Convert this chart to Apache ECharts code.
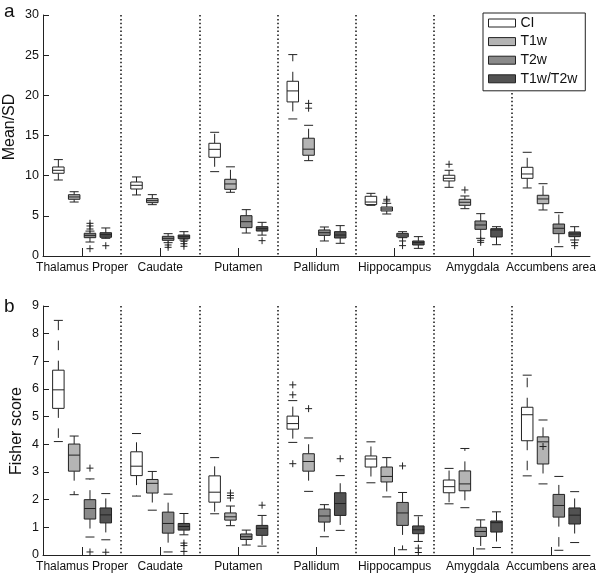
<!DOCTYPE html>
<html><head><meta charset="utf-8">
<script src="https://cdn.jsdelivr.net/npm/echarts@6/dist/echarts.min.js"></script>
<style>html,body{margin:0;padding:0;background:#fff}#c{width:600px;height:577px}</style>
</head><body><div id="c"></div>
<script>
const categories = ['Thalamus Proper','Caudate','Putamen','Pallidum','Hippocampus','Amygdala','Accumbens area'];
const seriesNames = ['CI','T1w','T2w','T1w/T2w'];
const seriesColors = ['#ffffff','#b4b4b4','#8a8a8a','#525252'];
const axisTitles = ['Mean/SD', 'Fisher score'];

// Panel a: Mean/SD  — each entry [lowWhisker, Q1, median, Q3, highWhisker]
const meanSD_CI = [[9.46,10.3,10.67,11.08,12.0],[7.6,8.34,8.8,9.21,9.84],[10.5,12.29,13.28,14.03,15.4],[17.06,19.18,20.55,21.75,25.07],[6.31,6.4,6.72,7.43,7.8],[8.55,9.34,9.67,10.05,10.67],[8.47,9.67,10.21,11.04,12.91]];
const meanSD_T1w = [[6.72,7.06,7.35,7.63,8.0],[6.39,6.64,6.89,7.14,7.64],[7.93,8.3,8.97,9.55,11.1],[11.87,12.54,13.3,14.66,16.27],[5.23,5.6,5.85,6.1,6.56],[5.89,6.31,6.69,7.06,7.47],[5.73,6.51,7.1,7.56,9.0]];
const meanSD_T2w = [[1.74,2.28,2.57,2.83,3.1],[1.66,1.95,2.2,2.45,2.78],[2.86,3.53,4.27,5.02,5.77],[1.87,2.57,2.9,3.24,3.61],[2.28,2.37,2.61,2.82,3.03],[2.2,3.32,3.86,4.36,5.27],[1.16,2.78,3.45,3.98,5.4]];
const meanSD_T1wT2w = [[2.2,2.33,2.65,2.9,3.49],[1.99,2.16,2.4,2.61,3.03],[2.6,3.11,3.4,3.65,4.19],[1.58,2.24,2.61,3.03,3.78],[0.95,1.37,1.66,1.87,2.41],[1.41,2.37,3.24,3.4,3.65],[1.99,2.41,2.74,2.99,3.65]];
// outliers: [seriesIndex, categoryIndex, value]
const meanSD_outliers = [[2,0,4.07],[2,0,3.74],[2,0,3.36],[2,0,0.91],[3,0,1.28],[2,1,1.37],[2,1,1.08],[3,1,1.83],[3,1,1.53],[3,1,1.21],[3,2,1.91],[1,3,19.0],[1,3,18.4],[1,4,7.06],[1,4,6.85],[2,4,1.87],[2,4,1.29],[0,5,11.42],[1,5,8.22],[2,5,1.95],[2,5,1.7],[3,6,1.66],[3,6,1.29]];

// Panel b: Fisher score
const fisher_CI = [[4.1,5.3,5.97,6.68,8.48],[2.13,2.87,3.21,3.73,4.39],[1.49,1.91,2.27,2.86,3.52],[4.07,4.55,4.75,5.02,5.58],[2.61,3.18,3.47,3.58,4.09],[1.85,2.25,2.47,2.71,3.13],[2.86,4.13,5.07,5.34,6.5]];
const fisher_T1w = [[2.18,3.03,3.61,4.01,4.3],[1.62,2.24,2.59,2.73,3.02],[1.06,1.26,1.38,1.52,1.77],[2.3,3.03,3.38,3.66,4.23],[2.1,2.64,2.84,3.18,3.52],[1.71,2.32,2.57,3.04,3.85],[2.57,3.29,4.09,4.27,4.88]];
const fisher_T2w = [[0.65,1.3,1.68,2.0,2.75],[0.11,0.79,1.14,1.55,2.2],[0.36,0.56,0.66,0.76,0.9],[0.66,1.19,1.41,1.66,1.82],[0.19,1.07,1.52,1.9,2.26],[0.22,0.67,0.85,1.0,1.27],[0.17,1.37,1.79,2.19,2.84]];
const fisher_T1wT2w = [[0.55,1.16,1.45,1.7,2.22],[0.73,0.9,1.03,1.14,1.5],[0.32,0.71,0.96,1.07,1.43],[0.89,1.43,1.86,2.25,2.87],[0.49,0.77,0.91,1.05,1.42],[0.27,0.83,1.17,1.23,1.56],[0.45,1.12,1.44,1.7,2.29]];
const fisher_outliers = [[2,0,3.14],[2,0,0.11],[3,0,0.1],[3,1,0.43],[3,1,0.34],[3,1,0.13],[1,2,2.24],[1,2,2.15],[1,2,2.06],[3,2,1.8],[0,3,6.15],[0,3,5.79],[0,3,3.3],[1,3,5.29],[3,3,3.48],[2,4,3.22],[3,4,0.25],[3,4,0.09],[1,6,3.92]];

const meanSDTicks = {min:0, max:30, interval:5};
const fisherTicks = {min:0, max:9, interval:1};

const FONT = "'Liberation Sans', Arial, sans-serif";
const INK = '#222';
const SLOT = 0.2023, BOXW = 0.147, CAPW = 4.5, DASH = [9.5, 10.5];

function boxRender(sIdx) {
  return function (params, api) {
    const cat = api.value(0);
    const band = api.size([1, 0])[0];
    const x = api.coord([cat, 0])[0] + (sIdx - 1.5) * band * SLOT;
    const hw = band * BOXW / 2;
    const y = i => api.coord([cat, api.value(i)])[1];
    const yLo = y(1), yQ1 = y(2), yMed = y(3), yQ3 = y(4), yHi = y(5);
    const ls = {stroke: INK, lineWidth: 1};
    return {
      type: 'group',
      children: [
        {type: 'line', shape: {x1: x, y1: yQ3, x2: x, y2: yHi}, style: Object.assign({lineDash: DASH}, ls)},
        {type: 'line', shape: {x1: x, y1: yQ1, x2: x, y2: yLo}, style: Object.assign({lineDash: DASH}, ls)},
        {type: 'line', shape: {x1: x - CAPW, y1: yHi, x2: x + CAPW, y2: yHi}, style: ls},
        {type: 'line', shape: {x1: x - CAPW, y1: yLo, x2: x + CAPW, y2: yLo}, style: ls},
        {type: 'rect', shape: {x: x - hw, y: yQ3, width: 2 * hw, height: yQ1 - yQ3}, style: {fill: seriesColors[sIdx], stroke: INK, lineWidth: 1}},
        {type: 'line', shape: {x1: x - hw, y1: yMed, x2: x + hw, y2: yMed}, style: ls}
      ]
    };
  };
}
function outlierRender(params, api) {
  const cat = api.value(0);
  const sIdx = api.value(2);
  const band = api.size([1, 0])[0];
  const p = api.coord([cat, api.value(1)]);
  const x = p[0] + (sIdx - 1.5) * band * SLOT, yy = p[1], h = 3.5;
  const ls = {stroke: INK, lineWidth: 1};
  return {type: 'group', children: [
    {type: 'line', shape: {x1: x - h, y1: yy, x2: x + h, y2: yy}, style: ls},
    {type: 'line', shape: {x1: x, y1: yy - h, x2: x, y2: yy + h}, style: ls}
  ]};
}

const panels = [
  {sets: [meanSD_CI, meanSD_T1w, meanSD_T2w, meanSD_T1wT2w], outliers: meanSD_outliers},
  {sets: [fisher_CI, fisher_T1w, fisher_T2w, fisher_T1wT2w], outliers: fisher_outliers}
];

const series = [];
panels.forEach((pnl, g) => {
  pnl.sets.forEach((set, s) => {
    series.push({
      type: 'custom', name: seriesNames[s], xAxisIndex: g, yAxisIndex: g,
      itemStyle: {color: seriesColors[s], borderColor: INK},
      renderItem: boxRender(s),
      encode: {x: 0, y: [1, 2, 3, 4, 5]},
      data: set.map((v, i) => [i].concat(v)),
      silent: true
    });
  });
  series.push({
    type: 'custom', name: 'outliers', xAxisIndex: g, yAxisIndex: g,
    renderItem: outlierRender, encode: {x: 0, y: 1},
    data: pnl.outliers.map(o => [o[1], o[2], o[0]]), silent: true
  });
});

function xAxis(g) {
  return {
    type: 'category', gridIndex: g, data: categories, boundaryGap: true,
    axisLine: {lineStyle: {color: INK, width: 1}},
    axisTick: {show: true, alignWithLabel: true, inside: true, length: 8, lineStyle: {color: INK}},
    axisLabel: {interval: 0, color: '#111', fontSize: 12, fontFamily: FONT, margin: 6, hideOverlap: false},
    splitLine: {show: true, showMinLine: false, showMaxLine: false, lineStyle: {color: '#111', width: 1.5, type: [1.5, 2.4]}}
  };
}
function yAxis(g, ticks) {
  return Object.assign({
    type: 'value', gridIndex: g,
    axisLine: {show: true, lineStyle: {color: INK, width: 1}},
    axisTick: {show: true, inside: true, length: 6, lineStyle: {color: INK}},
    axisLabel: {color: '#111', fontSize: 12.5, fontFamily: FONT, margin: 4},
    splitLine: {show: false}
  }, ticks);
}
function vTitle(text, x, y) {
  return {type: 'text', x: x, y: y, rotation: Math.PI / 2,
    style: {text: text, fontSize: 16, fill: '#111', fontFamily: FONT, align: 'center', verticalAlign: 'middle', textAlign: 'center', textVerticalAlign: 'middle'}};
}

const chart = echarts.init(document.getElementById('c'), null, {renderer: 'canvas'});
chart.setOption({
  animation: false,
  backgroundColor: '#fff',
  textStyle: {fontFamily: FONT},
  grid: [
    {left: 43, right: 10, top: 15, height: 241, containLabel: false, outerBoundsMode: 'none'},
    {left: 43, right: 10, top: 306, height: 249, containLabel: false, outerBoundsMode: 'none'}
  ],
  xAxis: [xAxis(0), xAxis(1)],
  yAxis: [yAxis(0, meanSDTicks), yAxis(1, fisherTicks)],
  legend: {
    orient: 'vertical', left: 483, top: 13,
    padding: [3, 8, 5, 5], itemGap: 4.6, itemWidth: 27, itemHeight: 8, itemTextGap: 9,
    backgroundColor: '#fff', borderColor: INK, borderWidth: 1, borderRadius: 0,
    textStyle: {fontSize: 14, color: '#111', fontFamily: FONT, lineHeight: 14},
    selectedMode: false,
    data: seriesNames.map((n, i) => ({name: n, icon: 'rect', itemStyle: {color: seriesColors[i], borderColor: INK, borderWidth: 1}}))
  },
  graphic: [
    {type: 'text', left: 4, top: 2, style: {text: 'a', fontSize: 19, fill: '#111', fontFamily: FONT}},
    {type: 'text', left: 4, top: 297, style: {text: 'b', fontSize: 19, fill: '#111', fontFamily: FONT}},
    vTitle(axisTitles[0], 10, 127),
    vTitle(axisTitles[1], 17, 431)
  ],
  series: series
});
</script></body></html>
